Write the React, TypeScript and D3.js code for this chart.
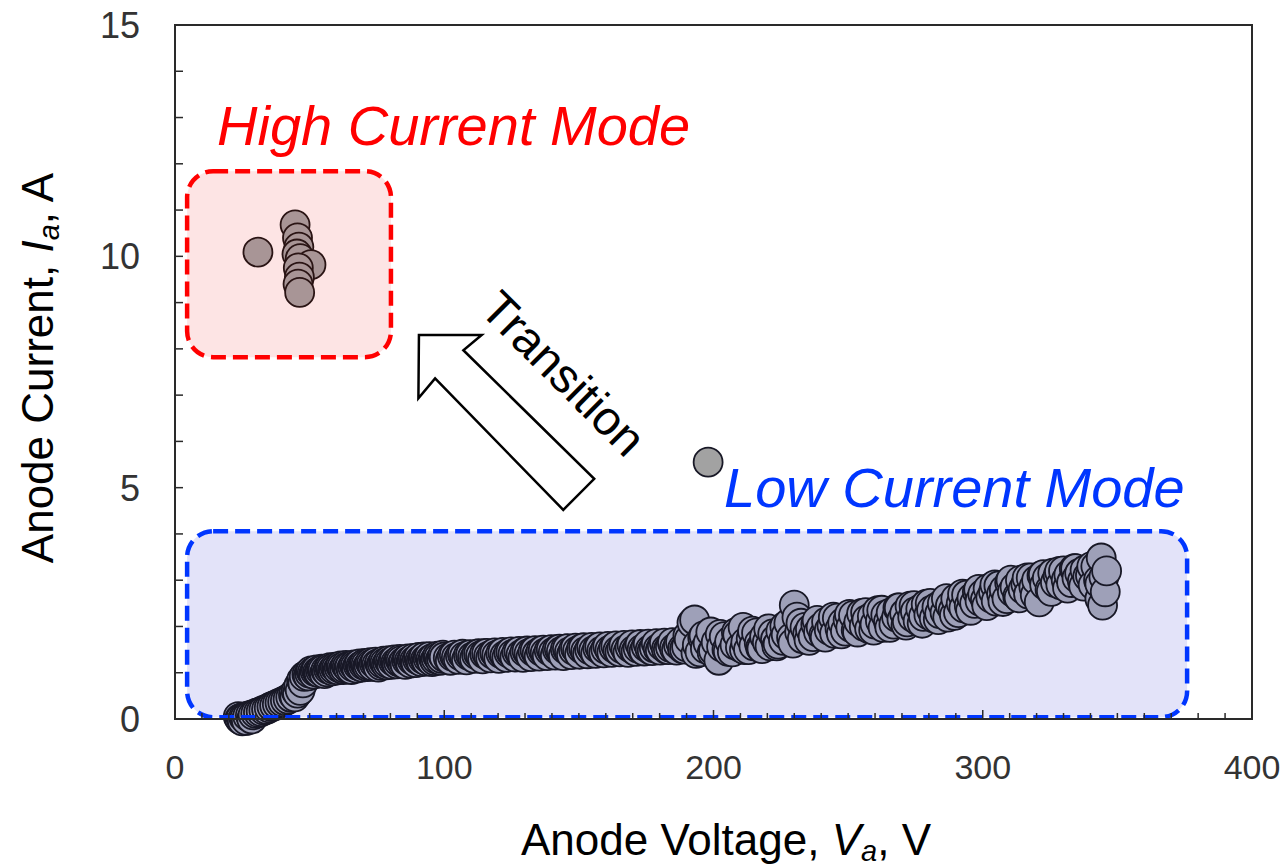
import React from "react";
import * as d3 from "d3";

// ---- Data ----
const lowV = [
  23.5, 24, 24.5, 25, 25.5, 26, 26.5, 27, 28, 28.5, 29, 30, 31, 32, 33, 34, 35, 36, 37, 38, 39, 40, 41, 42, 43, 44, 44.5, 45, 45.5, 46, 46.5, 47, 47.5, 48,
  49, 50, 51, 52, 53, 54, 55, 55.5, 56, 57, 58, 59, 60, 61, 62, 63, 64, 65, 65.5, 66, 67, 68, 69, 70, 71, 72, 73, 74, 75, 75.5, 76, 77, 78, 79, 80,
  81, 82, 83, 84, 85, 85.5, 86, 87, 88, 89, 90, 91, 92, 93, 94, 95, 95.5, 96, 97, 98, 99, 100,
  101.5, 103, 104.5, 106, 107.5, 109, 110.5, 112, 113.5, 115, 116.5, 118, 119.5, 121, 122.5, 124, 125.5, 127, 128.5, 130, 131.5, 133, 134.5, 136, 137.5, 139, 140.5, 142, 143.5, 145, 146.5, 148, 149.5, 151, 152.5, 154, 155.5, 157, 158.5, 160, 161.5, 163, 164.5, 166, 167.5, 169, 170.5, 172, 173.5, 175, 176.5, 178, 179.5, 181, 182.5, 184, 185.5, 187, 188.5,
  190, 191, 192, 193, 194, 195, 196, 197, 198, 199, 200, 201, 202, 203, 204, 205, 206, 207, 208, 209, 210, 211, 212, 213, 214, 215, 216, 217, 218, 219, 220,
  221, 222, 223, 224, 225, 226, 227, 228, 229, 230, 231, 232, 233, 234, 235, 236, 237, 238, 239, 240, 241, 242, 243, 244, 245, 246, 247, 248, 249, 250,
  251, 252, 253, 254, 255, 256, 257, 258, 259, 260, 261, 262, 263, 264, 265, 266, 267, 268, 269, 270, 271, 272, 273, 274, 275, 276, 277, 278, 279, 280,
  281, 282, 283, 284, 285, 286, 287, 288, 289, 290, 291, 292, 293, 294, 295, 296, 297, 298, 299, 300, 301, 302, 303, 304, 305, 306, 307, 308, 309, 310,
  311, 312, 313, 314, 315, 316, 317, 318, 319, 320, 321, 322, 323, 324, 325, 326, 327, 328, 329, 330, 331, 332, 333, 334, 335, 336, 337, 338, 339, 340,
  341, 342, 343, 343.5, 344, 344.5, 345, 345.5, 346,
];
const lowI = [
  0.05, 0.0, 0.02, -0.04, 0.04, 0.03, -0.03, 0.06, 0.08, 0.0, 0.09, 0.12, 0.14, 0.16, 0.19, 0.21, 0.24, 0.27, 0.29, 0.32, 0.35, 0.37, 0.4, 0.43, 0.47, 0.52, 0.48, 0.6, 0.56, 0.72, 0.62, 0.84, 0.78, 0.92,
  0.96, 0.99, 1.01, 1.03, 1.02, 1.05, 1.06, 0.98, 1.05, 1.08, 1.09, 1.08, 1.1, 1.11, 1.12, 1.1, 1.13, 1.14, 1.07, 1.13, 1.15, 1.16, 1.14, 1.17, 1.18, 1.16, 1.19, 1.2, 1.18, 1.12, 1.21, 1.2, 1.22, 1.21, 1.23,
  1.25, 1.22, 1.24, 1.26, 1.24, 1.18, 1.27, 1.25, 1.28, 1.26, 1.29, 1.27, 1.3, 1.28, 1.31, 1.29, 1.24, 1.32, 1.3, 1.33, 1.31, 1.34,
  1.32, 1.36, 1.33, 1.37, 1.35, 1.38, 1.34, 1.39, 1.37, 1.41, 1.36, 1.4, 1.38, 1.42, 1.37, 1.43, 1.4, 1.44, 1.39, 1.45, 1.42, 1.46, 1.41, 1.47, 1.43, 1.48, 1.44, 1.5, 1.46, 1.51, 1.45, 1.49, 1.47, 1.52, 1.46, 1.5, 1.48, 1.53, 1.47, 1.51, 1.49, 1.54, 1.48, 1.52, 1.5, 1.55, 1.49, 1.53, 1.51, 1.56, 1.5, 1.54, 1.52, 1.58, 1.51, 1.55, 1.53, 1.6, 1.52,
  1.56, 1.72, 2.08, 2.14, 1.6, 1.45, 1.76, 1.52, 1.64, 1.88, 1.48, 1.66, 1.27, 1.56, 1.78, 1.5, 1.68, 1.45, 1.6, 1.82, 1.55, 1.98, 1.66, 1.5, 1.74, 1.58, 1.86, 1.64, 1.52, 1.78, 1.66,
  1.58, 1.84, 1.72, 1.62, 1.9, 1.7, 1.82, 2.07, 1.76, 2.46, 2.2, 1.88, 1.74, 1.98, 1.84, 1.94, 1.78, 2.04, 1.88, 1.98, 1.82, 2.1, 1.92, 2.02, 1.85, 2.18, 1.95, 2.08, 1.9, 2.14,
  1.98, 2.24, 1.92, 2.1, 2.28, 2.0, 2.15, 1.95, 2.22, 2.05, 2.34, 2.12, 1.98, 2.25, 2.1, 2.3, 2.05, 2.2, 2.4, 2.15, 2.28, 2.1, 2.44, 2.2, 2.32, 2.12, 2.38, 2.22, 2.48, 2.25,
  2.35, 2.18, 2.42, 2.28, 2.5, 2.3, 2.2, 2.45, 2.35, 2.6, 2.3, 2.5, 2.4, 2.68, 2.45, 2.62, 2.5, 2.75, 2.55, 2.7, 2.58, 2.82, 2.62, 2.75, 2.55, 2.88, 2.7, 2.8, 2.6, 2.95,
  2.75, 2.85, 2.65, 3.0, 2.8, 2.92, 2.7, 3.05, 2.85, 3.0, 2.53, 3.1, 2.9, 3.05, 2.8, 3.15, 2.95, 3.1, 2.9, 3.2, 3.0, 3.12, 2.95, 3.25, 3.05, 3.15, 2.98, 3.22, 3.08, 3.1,
  2.9, 3.3, 3.0, 2.6, 3.48, 2.46, 3.07, 2.75, 3.2,
];
// additional low-mode samples (the dense second pass of the sweep)
const lowV2 = [
  49.5, 50.5, 51.5, 52.5, 53.5, 54.5, 56.5, 57.5, 58.5, 59.5, 60.5, 61.5, 62.5, 63.5, 64.5, 66.5, 67.5, 68.5, 69.5, 70.5, 71.5, 72.5, 73.5, 74.5,
  76.5, 77.5, 78.5, 79.5, 80.5, 81.5, 82.5, 83.5, 84.5, 86.5, 87.5, 88.5, 89.5, 90.5, 91.5, 92.5, 93.5, 94.5, 96.5, 97.5, 98.5, 99.5,
  102.25, 103.75, 105.25, 106.75, 108.25, 109.75, 111.25, 112.75, 114.25, 115.75, 117.25, 118.75, 120.25, 121.75, 123.25, 124.75, 126.25, 127.75, 129.25, 130.75,
  132.25, 133.75, 135.25, 136.75, 138.25, 139.75, 141.25, 142.75, 144.25, 145.75, 147.25, 148.75, 150.25, 151.75, 153.25, 154.75, 156.25, 157.75, 159.25, 160.75,
  162.25, 163.75, 165.25, 166.75, 168.25, 169.75, 171.25, 172.75, 174.25, 175.75, 177.25, 178.75, 180.25, 181.75, 183.25, 184.75, 186.25, 187.75, 189.25,
  190.5, 193.5, 196.5, 199.5, 202.5, 205.5, 208.5, 211.5, 214.5, 217.5, 220.5, 223.5, 226.5, 229.5, 232.5, 235.5, 238.5, 241.5, 244.5, 247.5,
  250.5, 253.5, 256.5, 259.5, 262.5, 265.5, 268.5, 271.5, 274.5, 277.5, 280.5, 283.5, 286.5, 289.5, 292.5, 295.5, 298.5, 301.5, 304.5, 307.5,
  310.5, 313.5, 316.5, 319.5, 322.5, 325.5, 328.5, 331.5, 334.5, 337.5, 340.5, 343.5,
];
const lowI2 = [
  0.93, 1.04, 0.97, 1.06, 1.0, 1.08, 1.02, 1.11, 1.04, 1.12, 1.06, 1.15, 1.07, 1.16, 1.09, 1.17, 1.1, 1.19, 1.12, 1.2, 1.13, 1.22, 1.14, 1.23,
  1.16, 1.25, 1.17, 1.26, 1.18, 1.28, 1.19, 1.29, 1.2, 1.3, 1.21, 1.31, 1.22, 1.33, 1.24, 1.34, 1.25, 1.35, 1.26, 1.36, 1.27, 1.38,
  1.27, 1.38, 1.29, 1.4, 1.28, 1.39, 1.31, 1.41, 1.3, 1.42, 1.32, 1.43, 1.31, 1.44, 1.33, 1.45, 1.34, 1.46, 1.33, 1.47,
  1.35, 1.48, 1.36, 1.49, 1.37, 1.5, 1.38, 1.51, 1.37, 1.52, 1.39, 1.53, 1.4, 1.54, 1.41, 1.55, 1.42, 1.56, 1.43, 1.57,
  1.44, 1.58, 1.45, 1.59, 1.44, 1.6, 1.46, 1.61, 1.47, 1.62, 1.48, 1.63, 1.49, 1.64, 1.5, 1.65, 1.49, 1.66, 1.51,
  1.8, 1.42, 1.8, 1.44, 1.83, 1.46, 1.87, 1.5, 1.9, 1.54, 1.95, 1.58, 2.0, 1.64, 2.07, 1.7, 2.13, 1.77, 2.2, 1.84,
  2.26, 1.88, 2.3, 1.92, 2.35, 1.98, 2.4, 2.03, 2.45, 2.07, 2.5, 2.15, 2.6, 2.24, 2.7, 2.35, 2.8, 2.45, 2.9, 2.54,
  3.0, 2.62, 3.05, 2.68, 3.12, 2.76, 3.19, 2.83, 3.25, 2.87, 3.3, 2.92,
];
const highV = [30.8, 44.6, 45.5, 46.0, 45.3, 46.5, 50.5, 45.8, 46.2, 45.7, 46.3];
const highI = [10.09, 10.68, 10.4, 10.2, 10.05, 9.95, 9.82, 9.75, 9.55, 9.4, 9.22];
const outlierV = [198];
const outlierI = [5.55];

const xTickLabels = [0, 100, 200, 300, 400];
const yTickLabels = [0, 5, 10, 15];

// ---- Layout ----
const W = 1280;
const H = 867;
const FONT = "'Liberation Sans', Arial, sans-serif";

const x = d3.scaleLinear().domain([0, 400]).range([175, 1252]);
const y = d3.scaleLinear().domain([0, 15]).range([719, 25]);

// annotations in data units
const redBox = { x0: 4.5, x1: 80.2, y0: 7.82, y1: 11.84 };
const blueBox = { x0: 4.5, x1: 375.9, y0: 0.04, y1: 4.06 };
const arrowPts: [number, number][] = [
  [90.6, 8.3],
  [113.9, 8.3],
  [107.1, 7.97],
  [155.7, 5.19],
  [144.2, 4.52],
  [96.6, 7.36],
  [90.4, 6.93],
];

export default function App() {
  const xMinor = d3.range(10, 400, 10);
  const yMinor = d3.range(1, 15, 1);
  const r = 14.5;
  const lowPts = d3.sort(
    [
      ...lowV.map((v, i) => [v, lowI[i]]),
      ...lowV2.map((v, i) => [v, lowI2[i]]),
    ],
    (p) => p[0]
  );
  const highPts = highV.map((v, i) => [v, highI[i]]);
  const outPts = outlierV.map((v, i) => [v, outlierI[i]]);
  const arrowPath = d3.line()(arrowPts.map(([a, b]) => [x(a), y(b)]) as [number, number][]) + "Z";
  const tCenter = [x(144.5), y(7.48)];

  return (
    <svg
      width={W}
      height={H}
      style={{ position: "absolute", left: 0, top: 0, background: "#fff" }}
      fontFamily={FONT}
    >
      {/* box fills */}
      <rect
        x={x(redBox.x0)}
        y={y(redBox.y1)}
        width={x(redBox.x1) - x(redBox.x0)}
        height={y(redBox.y0) - y(redBox.y1)}
        rx={26}
        fill="#fde4e4"
      />
      <rect
        x={x(blueBox.x0)}
        y={y(blueBox.y1)}
        width={x(blueBox.x1) - x(blueBox.x0)}
        height={y(blueBox.y0) - y(blueBox.y1)}
        rx={26}
        fill="#e3e3f9"
      />

      {/* points */}
      <g stroke="#181826" strokeWidth={1.8}>
        {lowPts.map(([v, c], i) => (
          <circle key={"l" + i} cx={x(v)} cy={y(c)} r={r} fill="#9ea0b8" />
        ))}
        {outPts.map(([v, c], i) => (
          <circle key={"o" + i} cx={x(v)} cy={y(c)} r={r} fill="#a2a2a2" />
        ))}
      </g>
      <g stroke="#2a1414" strokeWidth={1.8}>
        {highPts.map(([v, c], i) => (
          <circle key={"h" + i} cx={x(v)} cy={y(c)} r={r} fill="#a89596" />
        ))}
      </g>

      {/* box outlines */}
      <rect
        x={x(redBox.x0)}
        y={y(redBox.y1)}
        width={x(redBox.x1) - x(redBox.x0)}
        height={y(redBox.y0) - y(redBox.y1)}
        rx={26}
        fill="none"
        stroke="#ff0000"
        strokeWidth={4.5}
        strokeDasharray="15 7"
      />
      <rect
        x={x(blueBox.x0)}
        y={y(blueBox.y1)}
        width={x(blueBox.x1) - x(blueBox.x0)}
        height={y(blueBox.y0) - y(blueBox.y1)}
        rx={26}
        fill="none"
        stroke="#0036ff"
        strokeWidth={4.5}
        strokeDasharray="15 7"
      />

      {/* frame and ticks */}
      <rect
        x={x(0)}
        y={y(15)}
        width={x(400) - x(0)}
        height={y(0) - y(15)}
        fill="none"
        stroke="#2a2a2a"
        strokeWidth={2}
      />
      <g stroke="#2a2a2a" strokeWidth={1.5}>
        {xMinor.map((t) => (
          <line key={"xt" + t} x1={x(t)} x2={x(t)} y1={y(0)} y2={y(0) - (t % 100 === 0 ? 9 : 6)} />
        ))}
        {yMinor.map((t) => (
          <line key={"yt" + t} x1={x(0)} x2={x(0) + 8} y1={y(t)} y2={y(t)} />
        ))}
      </g>

      {/* tick labels */}
      <g fill="#333" fontSize={34} textAnchor="middle">
        {xTickLabels.map((t) => (
          <text key={"xl" + t} x={x(t)} y={779}>
            {t}
          </text>
        ))}
      </g>
      <g fill="#333" fontSize={36} textAnchor="end">
        {yTickLabels.map((t) => (
          <text key={"yl" + t} x={140} y={y(t)} dy="0.36em">
            {t}
          </text>
        ))}
      </g>

      {/* axis titles */}
      <text x={726} y={855} fontSize={44} textAnchor="middle" fill="#000">
        Anode Voltage, <tspan fontStyle="italic">V</tspan>
        <tspan fontStyle="italic" fontSize={29} dy={6}>a</tspan>
        <tspan dy={-6}>, V</tspan>
      </text>
      <text
        transform={`translate(53,368) rotate(-90)`}
        fontSize={44}
        textAnchor="middle"
        fill="#000"
      >
        Anode Current, <tspan fontStyle="italic">I</tspan>
        <tspan fontStyle="italic" fontSize={29} dy={6}>a</tspan>
        <tspan dy={-6}>, A</tspan>
      </text>

      {/* mode labels */}
      <text x={x(15.6)} y={y(12.41)} fontSize={56} fontStyle="italic" fill="#ff0000">
        High Current Mode
      </text>
      <text x={x(203.9)} y={y(4.58)} fontSize={56} fontStyle="italic" fill="#0036ff">
        Low Current Mode
      </text>

      {/* transition arrow */}
      <path d={arrowPath} fill="#fff" stroke="#000" strokeWidth={2.5} strokeLinejoin="miter" />
      <text
        transform={`translate(${tCenter[0]},${tCenter[1]}) rotate(45)`}
        fontSize={48}
        textAnchor="middle"
        dy="0.36em"
        fill="#000"
      >
        Transition
      </text>
    </svg>
  );
}
